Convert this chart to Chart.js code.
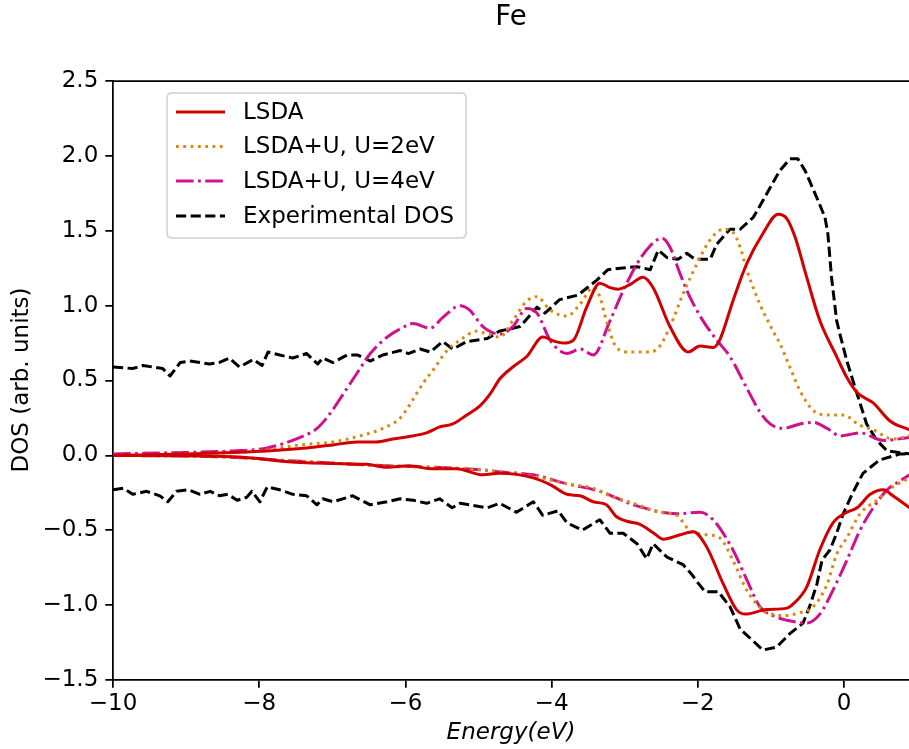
<!DOCTYPE html>
<html>
<head>
<meta charset="utf-8">
<script src="https://cdn.jsdelivr.net/npm/chart.js@4.4.1/dist/chart.umd.min.js"></script>
<style>
html,body{margin:0;padding:0;background:#fff;overflow:hidden;}
canvas{display:block;}
</style>
</head>
<body>
<canvas id="c" width="909" height="749"></canvas>
<script>
// ---------- data (Energy in eV, DOS in arb. units) ----------
const seriesNames = ["LSDA", "LSDA+U, U=2eV", "LSDA+U, U=4eV", "Experimental DOS"];
const xTicks = [-10, -8, -6, -4, -2, 0];
const yTicks = [-1.5, -1.0, -0.5, 0.0, 0.5, 1.0, 1.5, 2.0, 2.5];

const lsdaUpE = [-10, -9, -8.36, -7.89, -7.35, -6.99, -6.66, -6.4, -6.17, -5.90, -5.71, -5.53, -5.35, -5.16, -4.98, -4.84, -4.71, -4.53, -4.34, -4.12, -3.95, -3.84, -3.70, -3.52, -3.34, -3.2, -3.09, -2.93, -2.75, -2.61, -2.38, -2.13, -1.97, -1.79, -1.70, -1.52, -1.33, -1.11, -0.90, -0.78, -0.67, -0.51, -0.33, -0.10, 0.04, 0.18, 0.40, 0.63, 0.90];
const lsdaUp  = [0.0, 0.01, 0.02, 0.03, 0.05, 0.07, 0.09, 0.09, 0.11, 0.13, 0.15, 0.19, 0.21, 0.27, 0.33, 0.41, 0.51, 0.59, 0.66, 0.79, 0.76, 0.75, 0.77, 0.99, 1.15, 1.12, 1.11, 1.14, 1.19, 1.12, 0.86, 0.69, 0.73, 0.72, 0.77, 1.03, 1.28, 1.48, 1.61, 1.58, 1.46, 1.19, 0.90, 0.66, 0.52, 0.42, 0.35, 0.23, 0.17];

const lsdaDnE = [-10, -8.36, -7.35, -6.53, -6.25, -5.95, -5.62, -5.3, -4.94, -4.71, -4.25, -4.0, -3.79, -3.61, -3.43, -3.25, -3.11, -2.97, -2.79, -2.6, -2.47, -2.24, -2.06, -1.88, -1.65, -1.47, -1.35, -1.06, -0.78, -0.69, -0.51, -0.33, -0.15, 0.04, 0.18, 0.36, 0.54, 0.67, 0.90];
const lsdaDn  = [0.0, -0.01, -0.05, -0.06, -0.08, -0.07, -0.09, -0.09, -0.13, -0.12, -0.15, -0.20, -0.26, -0.27, -0.31, -0.33, -0.41, -0.44, -0.46, -0.52, -0.56, -0.53, -0.51, -0.61, -0.86, -1.03, -1.06, -1.03, -1.02, -0.99, -0.88, -0.63, -0.45, -0.38, -0.35, -0.26, -0.23, -0.27, -0.35];

const u2UpE = [-10, -9, -8, -7.44, -6.99, -6.62, -6.31, -6.07, -5.90, -5.76, -5.62, -5.43, -5.25, -5.02, -4.88, -4.71, -4.53, -4.34, -4.20, -4.02, -3.79, -3.61, -3.43, -3.34, -3.25, -3.11, -2.93, -2.65, -2.52, -2.38, -2.20, -2.01, -1.83, -1.65, -1.52, -1.42, -1.33, -1.15, -0.97, -0.88, -0.74, -0.60, -0.42, -0.23, -0.01, 0.22, 0.40, 0.67, 0.90];
const u2Up  = [0.0, 0.01, 0.03, 0.07, 0.09, 0.13, 0.18, 0.25, 0.37, 0.48, 0.57, 0.70, 0.77, 0.83, 0.81, 0.79, 0.90, 1.03, 1.06, 0.97, 0.93, 1.01, 1.12, 1.06, 0.90, 0.72, 0.69, 0.69, 0.73, 0.86, 1.08, 1.28, 1.44, 1.51, 1.49, 1.39, 1.24, 1.01, 0.83, 0.75, 0.59, 0.43, 0.30, 0.27, 0.27, 0.20, 0.17, 0.11, 0.13];

const u2DnE = [-10, -8.5, -7.44, -6.25, -5.6, -4.88, -4.71, -4.25, -3.79, -3.43, -3.20, -2.88, -2.52, -2.29, -2.11, -1.88, -1.70, -1.52, -1.33, -1.11, -0.83, -0.60, -0.42, -0.23, -0.10, 0.04, 0.22, 0.45, 0.67, 0.90];
const u2Dn  = [0.0, -0.01, -0.04, -0.07, -0.08, -0.10, -0.11, -0.14, -0.19, -0.22, -0.27, -0.32, -0.38, -0.40, -0.50, -0.53, -0.55, -0.70, -0.90, -1.03, -1.07, -1.05, -1.01, -0.86, -0.66, -0.55, -0.39, -0.30, -0.21, -0.15];

const u4UpE = [-10, -9, -8.36, -7.89, -7.44, -7.21, -7.03, -6.85, -6.66, -6.48, -6.25, -6.05, -5.90, -5.66, -5.49, -5.25, -5.12, -4.94, -4.71, -4.53, -4.34, -4.20, -4.02, -3.79, -3.61, -3.43, -3.20, -3.02, -2.83, -2.65, -2.49, -2.38, -2.24, -2.11, -1.93, -1.74, -1.56, -1.33, -1.15, -1.01, -0.83, -0.60, -0.42, -0.23, -0.05, 0.22, 0.54, 0.90];
const u4Up  = [0.01, 0.02, 0.03, 0.05, 0.12, 0.18, 0.28, 0.41, 0.55, 0.68, 0.79, 0.85, 0.88, 0.85, 0.92, 1.00, 0.97, 0.86, 0.81, 0.86, 0.98, 0.95, 0.77, 0.68, 0.71, 0.67, 0.90, 1.10, 1.28, 1.40, 1.45, 1.39, 1.21, 1.06, 0.90, 0.77, 0.66, 0.45, 0.29, 0.21, 0.18, 0.21, 0.22, 0.18, 0.13, 0.15, 0.10, 0.12];

const u4DnE = [-10, -8.5, -7.44, -6.25, -5.6, -4.88, -4.71, -4.25, -3.79, -3.34, -2.88, -2.29, -1.97, -1.79, -1.52, -1.33, -1.15, -0.92, -0.69, -0.51, -0.33, -0.15, 0.04, 0.22, 0.40, 0.59, 0.77, 0.90];
const u4Dn  = [0.0, -0.01, -0.04, -0.07, -0.08, -0.10, -0.11, -0.13, -0.19, -0.24, -0.33, -0.39, -0.38, -0.43, -0.63, -0.83, -1.01, -1.08, -1.11, -1.12, -1.06, -0.90, -0.70, -0.50, -0.35, -0.23, -0.17, -0.13];

const expUpE = [-10, -9.73, -9.59, -9.32, -9.22, -9.08, -8.95, -8.68, -8.55, -8.41, -8.27, -8.08, -7.96, -7.88, -7.72, -7.54, -7.35, -7.20, -7.13, -6.99, -6.80, -6.65, -6.48, -6.31, -6.07, -5.96, -5.80, -5.66, -5.49, -5.35, -5.16, -4.88, -4.71, -4.43, -4.20, -4.09, -3.89, -3.64, -3.38, -3.23, -3.06, -2.83, -2.65, -2.54, -2.42, -2.27, -2.15, -2.04, -1.83, -1.74, -1.56, -1.42, -1.24, -1.11, -0.88, -0.74, -0.63, -0.53, -0.37, -0.26, -0.22, -0.17, -0.10, -0.05, 0.04, 0.18, 0.31, 0.45, 0.59, 0.90];
const expUp  = [0.59, 0.58, 0.60, 0.58, 0.53, 0.62, 0.63, 0.61, 0.62, 0.65, 0.59, 0.64, 0.60, 0.69, 0.67, 0.65, 0.68, 0.61, 0.65, 0.62, 0.67, 0.67, 0.63, 0.67, 0.70, 0.68, 0.71, 0.69, 0.76, 0.71, 0.76, 0.78, 0.83, 0.86, 0.99, 0.95, 1.04, 1.07, 1.17, 1.24, 1.25, 1.26, 1.24, 1.37, 1.32, 1.31, 1.35, 1.31, 1.31, 1.41, 1.51, 1.51, 1.59, 1.70, 1.90, 1.98, 1.98, 1.90, 1.72, 1.59, 1.48, 1.19, 0.90, 0.80, 0.63, 0.41, 0.21, 0.10, 0.03, 0.01];

const expDnE = [-10, -9.86, -9.73, -9.54, -9.36, -9.25, -9.13, -8.97, -8.81, -8.67, -8.54, -8.43, -8.30, -8.17, -8.10, -7.99, -7.89, -7.72, -7.54, -7.35, -7.21, -7.13, -6.99, -6.72, -6.48, -6.25, -6.07, -5.89, -5.71, -5.53, -5.36, -5.25, -5.12, -4.88, -4.71, -4.48, -4.25, -4.12, -3.91, -3.79, -3.58, -3.34, -3.20, -3.02, -2.83, -2.70, -2.61, -2.42, -2.20, -2.09, -2.0, -1.90, -1.72, -1.56, -1.42, -1.24, -1.11, -0.92, -0.74, -0.56, -0.47, -0.37, -0.30, -0.19, -0.10, -0.01, 0.11, 0.26, 0.49, 0.77, 0.90];
const expDn  = [-0.23, -0.22, -0.26, -0.24, -0.27, -0.31, -0.24, -0.23, -0.26, -0.24, -0.27, -0.26, -0.30, -0.28, -0.24, -0.31, -0.21, -0.23, -0.26, -0.27, -0.33, -0.29, -0.31, -0.27, -0.33, -0.31, -0.29, -0.30, -0.32, -0.29, -0.35, -0.32, -0.33, -0.35, -0.32, -0.38, -0.31, -0.40, -0.37, -0.45, -0.50, -0.43, -0.52, -0.52, -0.59, -0.69, -0.59, -0.68, -0.73, -0.79, -0.85, -0.91, -0.91, -1.01, -1.16, -1.24, -1.30, -1.28, -1.19, -1.12, -1.01, -0.86, -0.70, -0.63, -0.52, -0.39, -0.26, -0.12, -0.03, 0.01, 0.01];

// ---------- styles ----------
const FONT = "'DejaVu Sans', 'Liberation Sans', sans-serif";
const FS = 23;
const styles = [
  {color: '#d10000', dash: []},
  {color: '#d98a0e', dash: [2.8, 4.5]},
  {color: '#d1108c', dash: [17.6, 4.4, 2.8, 4.4]},
  {color: '#000000', dash: [10.2, 4.4]}
];
const LW = 3;

function pts(xs, ys) { return xs.map((x, i) => ({x: x, y: ys[i]})); }
function mk(idx, xs, ys, legend, smooth) {
  const s = styles[idx];
  return {
    label: seriesNames[idx],
    data: pts(xs, ys),
    borderColor: s.color,
    backgroundColor: s.color,
    borderWidth: LW,
    borderDash: s.dash,
    borderCapStyle: 'butt',
    borderJoinStyle: 'round',
    pointRadius: 0,
    pointHoverRadius: 0,
    fill: false,
    tension: smooth ? 0.4 : 0,
    cubicInterpolationMode: smooth ? 'monotone' : 'default',
    showInLegend: legend,
    seriesIndex: idx
  };
}

const datasets = [
  mk(0, lsdaUpE, lsdaUp, true, true),
  mk(0, lsdaDnE, lsdaDn, false, true),
  mk(1, u2UpE, u2Up, true, true),
  mk(1, u2DnE, u2Dn, false, true),
  mk(2, u4UpE, u4Up, true, true),
  mk(2, u4DnE, u4Dn, false, true),
  mk(3, expUpE, expUp, true, false),
  mk(3, expDnE, expDn, false, false)
];

function fmt(v, digits) {
  const s = Math.abs(v).toFixed(digits);
  return (v < -1e-9 ? '\u2212' : '') + s;
}

const decor = {
  id: 'decor',
  afterDraw(chart) {
    const ctx = chart.ctx;
    const a = chart.chartArea;
    ctx.save();
    // top spine
    ctx.strokeStyle = '#000';
    ctx.lineWidth = 1.75;
    ctx.beginPath();
    ctx.moveTo(a.left - 0.9, a.top);
    ctx.lineTo(a.right + 2, a.top);
    ctx.stroke();
    // title
    ctx.fillStyle = '#000';
    ctx.font = '27.6px ' + FONT;
    ctx.textAlign = 'center';
    ctx.textBaseline = 'middle';
    ctx.fillText('Fe', 511, 18);
    // x label
    ctx.font = 'italic ' + FS + 'px ' + FONT;
    ctx.fillText('Energy(eV)', 511, 733);
    // y label
    ctx.save();
    ctx.translate(22, 380);
    ctx.rotate(-Math.PI / 2);
    ctx.font = FS + 'px ' + FONT;
    ctx.fillText('DOS (arb. units)', 0, 0);
    ctx.restore();

    // legend
    const bx = 167, by = 93, bw = 299, bh = 145, r = 5;
    ctx.beginPath();
    ctx.moveTo(bx + r, by);
    ctx.lineTo(bx + bw - r, by);
    ctx.quadraticCurveTo(bx + bw, by, bx + bw, by + r);
    ctx.lineTo(bx + bw, by + bh - r);
    ctx.quadraticCurveTo(bx + bw, by + bh, bx + bw - r, by + bh);
    ctx.lineTo(bx + r, by + bh);
    ctx.quadraticCurveTo(bx, by + bh, bx, by + bh - r);
    ctx.lineTo(bx, by + r);
    ctx.quadraticCurveTo(bx, by, bx + r, by);
    ctx.closePath();
    ctx.fillStyle = 'rgba(255,255,255,0.8)';
    ctx.fill();
    ctx.strokeStyle = '#d0d0d0';
    ctx.lineWidth = 1.5;
    ctx.stroke();
    const rows = [112, 146.5, 181, 216];
    chart.data.datasets.filter(d => d.showInLegend).forEach((d, i) => {
      const y = rows[i];
      ctx.strokeStyle = d.borderColor;
      ctx.lineWidth = LW;
      ctx.lineCap = 'butt';
      ctx.setLineDash(d.borderDash);
      ctx.beginPath();
      ctx.moveTo(176, y);
      ctx.lineTo(225, y);
      ctx.stroke();
      ctx.setLineDash([]);
      ctx.fillStyle = '#000';
      ctx.font = FS + 'px ' + FONT;
      ctx.textAlign = 'left';
      ctx.textBaseline = 'middle';
      ctx.fillText(d.label, 243, y + 1);
    });
    ctx.restore();
  }
};

new Chart(document.getElementById('c'), {
  type: 'line',
  data: {datasets: datasets},
  options: {
    responsive: false,
    animation: false,
    devicePixelRatio: 1,
    events: [],
    layout: {padding: {top: 81, right: 0, bottom: 0, left: 0}},
    plugins: {
      legend: {display: false},
      title: {display: false},
      tooltip: {enabled: false}
    },
    scales: {
      x: {
        type: 'linear',
        position: 'bottom',
        min: -10,
        max: 0.89,
        afterFit(s) { s.height = 69; },
        afterBuildTicks(s) { s.ticks = xTicks.map(v => ({value: v})); },
        ticks: {
          color: '#000',
          font: {family: FONT, size: FS},
          padding: 3,
          maxRotation: 0,
          autoSkip: false,
          callback: v => fmt(v, 0)
        },
        grid: {display: true, drawOnChartArea: false, drawTicks: true, tickLength: 7.7, color: '#000', lineWidth: 1.75},
        border: {display: true, color: '#000', width: 1.75}
      },
      y: {
        type: 'linear',
        position: 'left',
        min: -1.5,
        max: 2.5,
        afterFit(s) { s.width = 113; },
        afterBuildTicks(s) { s.ticks = yTicks.map(v => ({value: v})); },
        ticks: {
          color: '#000',
          font: {family: FONT, size: FS},
          padding: 7,
          autoSkip: false,
          callback: v => fmt(v, 1)
        },
        grid: {display: true, drawOnChartArea: false, drawTicks: true, tickLength: 7.7, color: '#000', lineWidth: 1.75},
        border: {display: true, color: '#000', width: 1.75}
      }
    }
  },
  plugins: [decor]
});
</script>
</body>
</html>
